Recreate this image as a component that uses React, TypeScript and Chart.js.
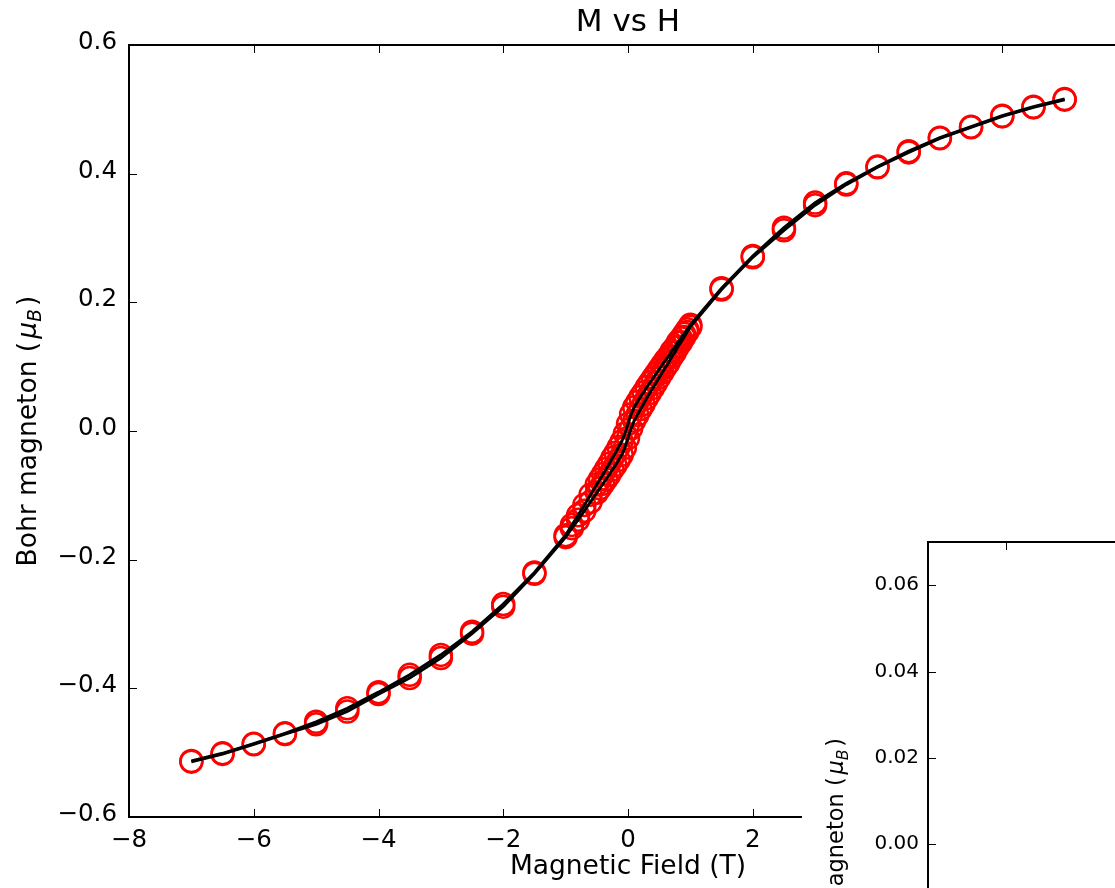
import React, { useEffect, useRef } from "react";
import { Chart, registerables } from "chart.js";

Chart.register(...registerables);

// ---- data: field sweep from +7 T down to -7 T (descending branch) ----
const fieldDown = [
  7, 6.5, 6, 5.5, 5, 4.5, 4, 3.5, 3, 2.5, 2, 1.5, 1,
  0.95, 0.9, 0.85, 0.8, 0.75, 0.7, 0.65, 0.6, 0.55, 0.5, 0.45, 0.4, 0.35,
  0.3, 0.25, 0.2, 0.15, 0.1, 0.05, 0, -0.05, -0.1, -0.15, -0.2, -0.25, -0.3,
  -0.35, -0.4, -0.45, -0.5, -0.6, -0.7, -0.8, -0.9, -1,
  -1.5, -2, -2.5, -3, -3.5, -4, -4.5, -5, -5.5, -6, -6.5, -7,
];
const momentDown = [
  0.516, 0.504, 0.49, 0.473, 0.456, 0.435, 0.411, 0.385, 0.355, 0.316, 0.272, 0.222, 0.165,
  0.158, 0.151, 0.144, 0.138, 0.13, 0.124, 0.116, 0.11, 0.103, 0.096, 0.089, 0.082, 0.075,
  0.068, 0.06, 0.053, 0.045, 0.037, 0.026, 0.011, -0.004, -0.016, -0.025, -0.034, -0.042, -0.051,
  -0.059, -0.067, -0.075, -0.083, -0.099, -0.115, -0.131, -0.146, -0.162,
  -0.22, -0.269, -0.312, -0.348, -0.379, -0.406, -0.431, -0.452, -0.47, -0.486, -0.501, -0.513,
];

// ---- data: field sweep from -7 T back up to +7 T (ascending branch) ----
const fieldUp = [
  -7, -6.5, -6, -5.5, -5, -4.5, -4, -3.5, -3, -2.5, -2, -1.5, -1,
  -0.9, -0.8, -0.7, -0.6, -0.5, -0.45, -0.4, -0.35, -0.3, -0.25, -0.2, -0.15,
  -0.1, -0.05, 0, 0.05, 0.1, 0.15, 0.2, 0.25, 0.3, 0.35, 0.4, 0.45, 0.5, 0.55,
  0.6, 0.65, 0.7, 0.75, 0.8, 0.85, 0.9, 0.95, 1,
  1.5, 2, 2.5, 3, 3.5, 4, 4.5, 5, 5.5, 6, 6.5, 7,
];
const momentUp = [
  -0.514, -0.502, -0.487, -0.471, -0.456, -0.436, -0.409, -0.384, -0.353, -0.315, -0.273, -0.222, -0.165,
  -0.151, -0.138, -0.124, -0.11, -0.096, -0.089, -0.082, -0.075, -0.068, -0.06, -0.053, -0.045,
  -0.037, -0.026, -0.011, 0.004, 0.016, 0.025, 0.034, 0.042, 0.051, 0.059, 0.067, 0.075, 0.083, 0.091,
  0.099, 0.106, 0.115, 0.122, 0.131, 0.138, 0.146, 0.154, 0.162,
  0.22, 0.27, 0.312, 0.351, 0.383, 0.41, 0.433, 0.455, 0.472, 0.489, 0.503, 0.515,
];

// ---- ticks ----
const xTickValues = [-8, -6, -4, -2, 0, 2, 4, 6, 8];
const yTickValues = [-0.6, -0.4, -0.2, 0, 0.2, 0.4, 0.6];
const insetXTickValues = [0, 0.5, 1];
const insetYTickValues = [-0.02, 0, 0.02, 0.04, 0.06];

const TITLE = "M vs H";
const X_LABEL = "Magnetic Field (T)";
const Y_LABEL_TEXT = "Bohr magneton (";
const Y_LABEL_MU = "\u03bc";
const Y_LABEL_SUB = "B";

const FONT = "'DejaVu Sans', sans-serif";
const minus = (s: string) => s.replace("-", "\u2212");

const inwardTicks = {
  id: "inwardTicks",
  afterDatasetsDraw(chart: any, _args: any, opts: any) {
    const { ctx, chartArea: a, scales } = chart;
    const xs = scales.x;
    const ys = scales.y;
    const len = opts.len ?? 8;
    ctx.save();
    ctx.strokeStyle = "#000";
    ctx.lineWidth = 1;
    ctx.beginPath();
    xs.ticks.forEach((t: any) => {
      const px = Math.round(xs.getPixelForValue(t.value)) + 0.5;
      ctx.moveTo(px, a.bottom);
      ctx.lineTo(px, a.bottom - len);
      ctx.moveTo(px, a.top);
      ctx.lineTo(px, a.top + len);
    });
    ys.ticks.forEach((t: any) => {
      const py = Math.round(ys.getPixelForValue(t.value)) + 0.5;
      ctx.moveTo(a.left, py);
      ctx.lineTo(a.left + len, py);
      ctx.moveTo(a.right, py);
      ctx.lineTo(a.right - len, py);
    });
    ctx.stroke();
    ctx.lineWidth = opts.frame ?? 2;
    ctx.strokeRect(a.left, a.top, a.right - a.left, a.bottom - a.top);
    ctx.restore();
  },
};

function drawMathLabel(
  ctx: CanvasRenderingContext2D,
  baselineX: number,
  anchorY: number,
  size: number,
  anchor: "center" | "end"
) {
  const segs = [
    { t: Y_LABEL_TEXT, f: `${size}px ${FONT}`, dy: 0, gapAfter: size * 0.12 },
    { t: Y_LABEL_MU, f: `italic ${size}px ${FONT}`, dy: 0, gapAfter: 0 },
    { t: Y_LABEL_SUB, f: `italic ${size * 0.7}px ${FONT}`, dy: size * 0.2, gapAfter: size * 0.12 },
    { t: ")", f: `${size}px ${FONT}`, dy: 0, gapAfter: 0 },
  ];
  ctx.save();
  let total = 0;
  const widths = segs.map((s) => {
    ctx.font = s.f;
    const w = ctx.measureText(s.t).width;
    total += w + s.gapAfter;
    return w;
  });
  ctx.translate(baselineX, anchorY);
  ctx.rotate(-Math.PI / 2);
  ctx.fillStyle = "#000";
  ctx.textBaseline = "alphabetic";
  ctx.textAlign = "left";
  let x = anchor === "center" ? -total / 2 : -total;
  segs.forEach((s, i) => {
    ctx.font = s.f;
    ctx.fillText(s.t, x, s.dy);
    x += widths[i] + s.gapAfter;
  });
  ctx.restore();
}

const mainYLabel = {
  id: "mainYLabel",
  afterDraw(chart: any) {
    const a = chart.chartArea;
    drawMathLabel(chart.ctx, 35.5, (a.top + a.bottom) / 2, 26.5, "center");
  },
};

const insetYLabel = {
  id: "insetYLabel",
  afterDraw(chart: any) {
    drawMathLabel(chart.ctx, 41, 218, 22.5, "end");
  },
};

export default function App() {
  const mainRef = useRef<HTMLCanvasElement>(null);
  const insetRef = useRef<HTMLCanvasElement>(null);

  useEffect(() => {
    if (!mainRef.current || !insetRef.current) return;
    const down = fieldDown.map((h, i) => ({ x: h, y: momentDown[i] }));
    const up = fieldUp.map((h, i) => ({ x: h, y: momentUp[i] }));

    const circleStyle = {
      showLine: false,
      pointRadius: 11,
      pointBorderWidth: 2.5,
      pointBorderColor: "#ff0000",
      pointBackgroundColor: "rgba(0,0,0,0)",
      order: 1,
    };
    const lineStyle = {
      showLine: true,
      borderColor: "#000",
      borderWidth: 3,
      pointRadius: 0,
      tension: 0,
      order: 0,
    };

    const main = new Chart(mainRef.current, {
      type: "scatter",
      data: {
        datasets: [
          { data: down, ...lineStyle },
          { data: up, ...lineStyle },
          { data: down, ...circleStyle },
          { data: up, ...circleStyle },
        ],
      },
      options: {
        responsive: false,
        animation: false,
        events: [],
        layout: { padding: { left: 0, top: 0, right: 123, bottom: 0 } },
        plugins: {
          legend: { display: false },
          tooltip: { enabled: false },
          title: {
            display: true,
            text: TITLE,
            fullSize: false,
            color: "#000",
            font: { family: FONT, size: 31, weight: "normal" },
            padding: { top: 4.7, bottom: 3.1 },
          },
          inwardTicks: { len: 8, frame: 2 },
        } as any,
        scales: {
          x: {
            type: "linear",
            position: "bottom",
            min: -8,
            max: 8,
            grid: { display: false, drawTicks: false },
            border: { display: false },
            afterBuildTicks: (s: any) => { s.ticks = xTickValues.map((v) => ({ value: v })); },
            afterFit: (s: any) => { s.height = 71; },
            ticks: {
              autoSkip: false, maxRotation: 0, padding: 8.5, color: "#000",
              font: { family: FONT, size: 24.5 },
              callback: (v: any) => minus(String(v)),
            },
            title: {
              display: true, text: X_LABEL, color: "#000",
              font: { family: FONT, size: 26.5 },
              padding: { top: 0, bottom: 5.3 },
            },
          },
          y: {
            type: "linear",
            position: "left",
            min: -0.6,
            max: 0.6,
            grid: { display: false, drawTicks: false },
            border: { display: false },
            afterBuildTicks: (s: any) => { s.ticks = yTickValues.map((v) => ({ value: v })); },
            afterFit: (s: any) => { s.width = 129; },
            ticks: {
              autoSkip: false, padding: 12, labelOffset: -2.5, color: "#000",
              font: { family: FONT, size: 24.5 },
              callback: (v: any) => minus(Number(v).toFixed(1)),
            },
          },
        },
      },
      plugins: [inwardTicks, mainYLabel],
    });

    const inset = new Chart(insetRef.current, {
      type: "scatter",
      data: { datasets: [] },
      options: {
        responsive: false,
        animation: false,
        events: [],
        layout: { padding: { left: 0, top: 22, right: 45.5, bottom: 0 } },
        plugins: {
          legend: { display: false },
          tooltip: { enabled: false },
          inwardTicks: { len: 8, frame: 2 },
        } as any,
        scales: {
          x: {
            type: "linear",
            position: "bottom",
            min: -0.25,
            max: 1,
            grid: { display: false, drawTicks: false },
            border: { display: false },
            afterBuildTicks: (s: any) => { s.ticks = insetXTickValues.map((v) => ({ value: v })); },
            afterFit: (s: any) => { s.height = 39.4; },
            ticks: { autoSkip: false, maxRotation: 0, padding: 6, color: "#000", font: { family: FONT, size: 20 } },
          },
          y: {
            type: "linear",
            position: "left",
            min: -0.02,
            max: 0.07,
            grid: { display: false, drawTicks: false },
            border: { display: false },
            afterBuildTicks: (s: any) => { s.ticks = insetYTickValues.map((v) => ({ value: v })); },
            afterFit: (s: any) => { s.width = 126; },
            ticks: {
              autoSkip: false, padding: 9, color: "#000",
              font: { family: FONT, size: 20 },
              callback: (v: any) => minus(Number(v).toFixed(2)),
            },
          },
        },
      },
      plugins: [inwardTicks, insetYLabel],
    });

    return () => {
      main.destroy();
      inset.destroy();
    };
  }, []);

  return (
    <div style={{ position: "fixed", left: 0, top: 0, width: 1115, height: 888, overflow: "hidden", background: "#fff" }}>
      <canvas ref={mainRef} width={1250} height={888} style={{ position: "absolute", left: 0, top: 0 }} />
      <canvas ref={insetRef} width={560} height={450} style={{ position: "absolute", left: 802, top: 520, background: "#fff" }} />
    </div>
  );
}
